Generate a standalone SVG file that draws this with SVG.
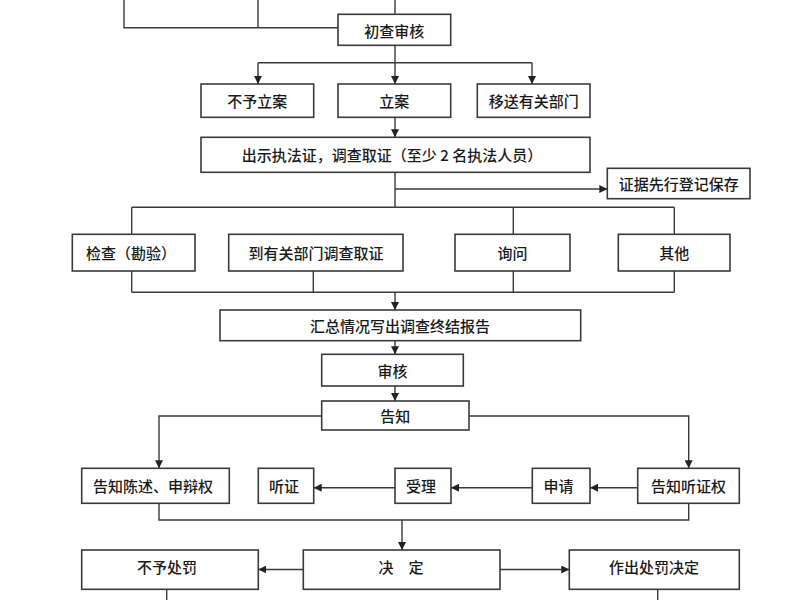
<svg xmlns="http://www.w3.org/2000/svg" width="800" height="600" viewBox="0 0 800 600">
<defs>
<marker id="ah" markerUnits="userSpaceOnUse" markerWidth="9" markerHeight="8" refX="8" refY="4" orient="auto">
<path d="M0,0 L8,4 L0,8 z" fill="#222"/>
</marker>
<style>
.box{fill:#fff;stroke:#3a3a3a;stroke-width:1.6}
.t{font-family:"Noto Sans CJK SC","Noto Sans",sans-serif;font-size:15px;font-weight:500;fill:#1a1a1a;text-anchor:middle;dominant-baseline:central}
.c{fill:none;stroke:#3a3a3a;stroke-width:1.4}
.a{fill:none;stroke:#3a3a3a;stroke-width:1.4;marker-end:url(#ah)}
</style>
</defs>
<rect width="800" height="600" fill="#fff"/>
<g id="connectors">
<path class="c" d="M124,0 V27.7 H338 M258,0 V27.7 M395,0 V14.3"/>
<path class="c" d="M395,45.3 V62.7 M258,62.7 H532"/>
<path class="a" d="M258,62.7 V84"/>
<path class="a" d="M395,62.7 V84"/>
<path class="a" d="M532,62.7 V84"/>
<path class="a" d="M395,117.3 V137.3"/>
<path class="c" d="M395,172.3 V207.3 M131.7,207.3 H674.3 M131.7,207.3 V234.3 M513.3,207.3 V234.3 M674.3,207.3 V234.3"/>
<path class="a" d="M395,189 H607.3"/>
<path class="c" d="M131.7,271 V292.3 M313.3,271 V292.3 M513.3,271 V292.3 M674.3,271 V292.3 M131.7,292.3 H674.3"/>
<path class="a" d="M395,292.3 V310"/>
<path class="a" d="M395,340.7 V354.3"/>
<path class="a" d="M395,386 V401"/>
<path class="a" d="M321.7,416 H159 V468.3"/>
<path class="a" d="M469,416 H688.7 V468.3"/>
<path class="a" d="M637.7,487.7 H590"/>
<path class="a" d="M532.3,487.7 H451"/>
<path class="a" d="M395,487.7 H313.7"/>
<path class="c" d="M159,503.3 V520 H688.7 V503.3"/>
<path class="a" d="M402,520 V550"/>
<path class="a" d="M303.3,569.5 H258.3"/>
<path class="a" d="M500,569.5 H569.3"/>
<path class="c" d="M166.7,589.3 V600 M657.7,589.3 V600"/>
</g>
<g id="n1"><rect class="box" x="338" y="14.3" width="112.7" height="31"/><text class="t" x="394.3" y="30">初查审核</text></g>
<g id="n2"><rect class="box" x="201" y="84" width="112.7" height="33.3"/><text class="t" x="257.3" y="100.7">不予立案</text></g>
<g id="n3"><rect class="box" x="338" y="84" width="112.7" height="33.3"/><text class="t" x="394.3" y="100.7">立案</text></g>
<g id="n4"><rect class="box" x="477.3" y="84" width="112.7" height="33.3"/><text class="t" x="533.7" y="100.7">移送有关部门</text></g>
<g id="n5"><rect class="box" x="201" y="137.3" width="389" height="35"/><text class="t" x="392" y="154.8">出示执法证，调查取证（至少 2 名执法人员）</text></g>
<g id="n6"><rect class="box" x="607.3" y="168.3" width="142.7" height="30.4"/><text class="t" x="678.7" y="183.5">证据先行登记保存</text></g>
<g id="n7"><rect class="box" x="72.3" y="234.3" width="122.7" height="36.7"/><text class="t" x="131" y="252.6">检查（勘验）</text></g>
<g id="n8"><rect class="box" x="228.7" y="234.3" width="174.3" height="36.7"/><text class="t" x="316" y="252.6">到有关部门调查取证</text></g>
<g id="n9"><rect class="box" x="455" y="234.3" width="115" height="36.7"/><text class="t" x="512.5" y="252.6">询问</text></g>
<g id="n10"><rect class="box" x="618.3" y="234.3" width="111.7" height="36.7"/><text class="t" x="674.2" y="252.6">其他</text></g>
<g id="n11"><rect class="box" x="220" y="310" width="360.7" height="30.7"/><text class="t" x="400" y="325.3">汇总情况写出调查终结报告</text></g>
<g id="n12"><rect class="box" x="321.7" y="354.3" width="141.6" height="31.7"/><text class="t" x="392.5" y="370.1">审核</text></g>
<g id="n13"><rect class="box" x="321.7" y="401" width="147.3" height="29"/><text class="t" x="395.3" y="415.5">告知</text></g>
<g id="n14"><rect class="box" x="81.7" y="468.3" width="147.6" height="35"/><text class="t" x="153" y="485.8">告知陈述、申辩权</text></g>
<g id="n15"><rect class="box" x="258.3" y="468.3" width="55.4" height="35"/><text class="t" x="284" y="485.8">听证</text></g>
<g id="n16"><rect class="box" x="395" y="468.3" width="56" height="35"/><text class="t" x="421" y="485.8">受理</text></g>
<g id="n17"><rect class="box" x="532.3" y="468.3" width="57.7" height="35"/><text class="t" x="558.5" y="485.8">申请</text></g>
<g id="n18"><rect class="box" x="637.7" y="468.3" width="101.6" height="35"/><text class="t" x="688.5" y="485.8">告知听证权</text></g>
<g id="n19"><rect class="box" x="81.7" y="550" width="176.6" height="39.3"/><text class="t" x="167" y="566">不予处罚</text></g>
<g id="n20"><rect class="box" x="303.3" y="550" width="196.7" height="39.3"/><text class="t" x="401" y="566">决　定</text></g>
<g id="n21"><rect class="box" x="569.3" y="550" width="170" height="39.3"/><text class="t" x="654" y="566">作出处罚决定</text></g>
</svg>
